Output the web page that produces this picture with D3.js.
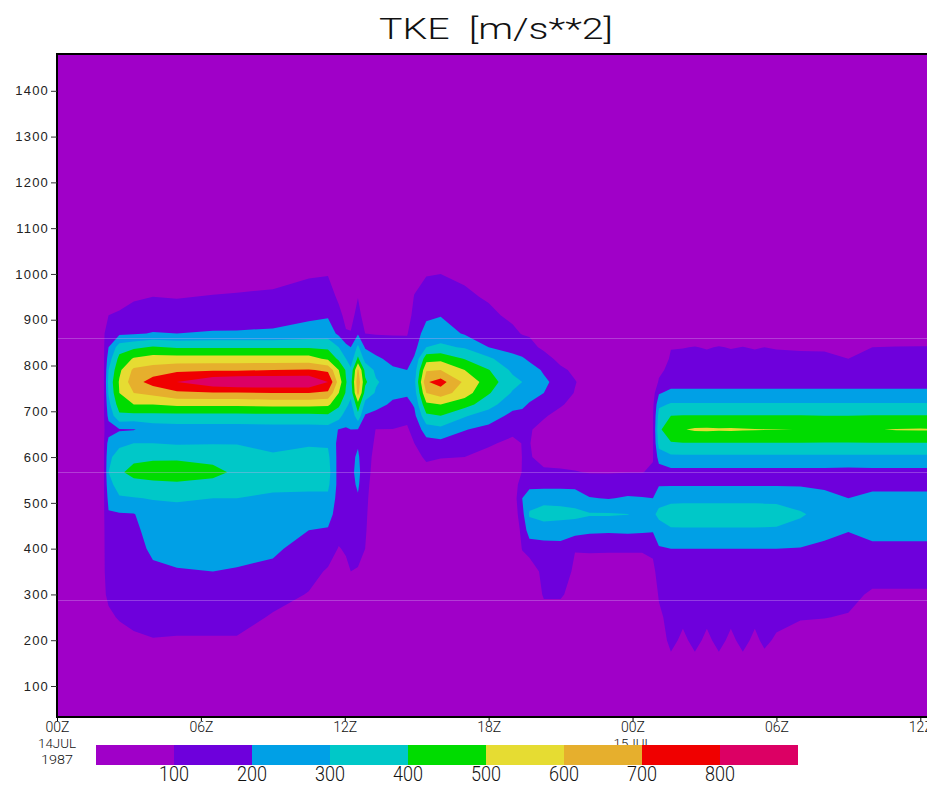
<!DOCTYPE html>
<html lang="en">
  <head>
    <meta charset="utf-8">
    <title>TKE</title>
    <script src="https://cdn.jsdelivr.net/npm/d3@7"></script>
    <style>
      body { margin: 0; background: #fff; }
      svg { display: block; }
      .hershey { font-family: Roboto, "Liberation Sans", sans-serif; font-weight: 300; fill: #111; }
      .ylab text { font-family: "Liberation Sans", Arial, sans-serif; font-size: 13px; letter-spacing: 1.2px; fill: #222; }
    </style>
  </head>
  <body>
    <script>

// time columns (hours after 00Z 14JUL1987)
var hours = [0, 1.95, 2.15, 2.6, 3.2, 4.0, 5.0, 6.5, 7.5, 9.0,
  10.5, 11.3, 11.75, 12.05, 12.25, 12.55, 12.85, 13.3, 14.0, 14.6,
  14.9, 15.4, 16.0, 17.0, 18.0, 19.0, 19.4, 19.7, 20.3, 21.0,
  21.6, 22.2, 23.0, 23.8, 24.4, 24.85, 25.1, 25.6, 26.1, 26.6,
  27.1, 27.6, 28.1, 28.6, 29.1, 29.5, 30.0, 31.0, 32.0, 33.0,
  34.0, 35.0, 36.0, 36.5];

// height levels
var heights = [150, 200, 250, 300, 350, 400, 440, 475, 510, 540, 567, 600, 630,
  660, 690, 715, 740, 764, 790, 815, 840, 870, 910, 950, 1000, 1040];

// TKE profiles, one per time column, bottom to top
var tke = [
  [0,0,0,0,0,0,0,0,0,0,0,0,0,0,0,0,0,0,0,0,0,0,0,0,0,0],
  [0,20,60,85,90,90,90,90,90,90,90,90,90,90,90,90,90,90,90,90,90,90,90,60,20,0],
  [0,30,80,120,140,150,160,190,230,270,300,280,240,150,230,270,310,330,300,250,200,150,100,70,30,0],
  [10,50,110,130,150,165,180,190,290,340,380,340,280,190,380,450,500,510,480,430,350,180,110,70,30,0],
  [20,80,130,150,160,170,180,195,295,360,440,370,300,195,370,500,600,660,620,510,380,190,130,90,40,0],
  [30,95,140,160,185,215,235,260,305,370,460,380,300,240,370,500,630,740,650,540,410,205,140,100,50,0],
  [30,90,140,165,195,225,250,270,310,380,470,380,290,250,370,520,680,800,680,540,390,200,140,95,45,0],
  [30,90,140,170,200,225,250,270,300,370,430,370,295,250,370,520,690,880,690,540,390,210,145,105,50,0],
  [30,90,140,170,195,222,250,270,300,350,380,350,295,250,370,520,690,900,690,540,390,210,150,110,55,0],
  [10,40,90,135,180,215,240,265,285,320,360,310,280,260,370,530,700,905,700,540,390,215,160,120,60,0],
  [0,20,60,95,130,165,200,250,280,320,350,330,290,260,370,530,700,900,710,540,390,240,180,140,90,40],
  [0,0,20,50,90,140,190,240,280,320,340,320,290,260,380,520,680,800,680,480,380,250,190,150,95,40],
  [0,0,0,20,60,95,130,150,160,165,160,165,170,195,340,420,500,560,500,380,300,180,130,80,40,0],
  [0,0,10,40,80,110,140,155,160,165,170,170,170,190,250,330,390,405,390,300,230,110,70,40,10,0],
  [0,0,20,60,100,130,150,160,165,170,175,175,175,200,215,270,330,360,320,240,200,105,70,40,10,0],
  [0,0,20,60,95,120,150,170,190,215,230,215,190,195,370,460,640,670,620,420,320,190,130,98,50,0],
  [0,0,0,30,70,100,110,115,120,125,130,130,135,150,190,270,360,420,370,260,190,100,60,30,0,0],
  [0,0,0,0,10,20,30,40,50,60,70,80,90,98,160,240,290,310,280,220,150,95,60,30,0,0],
  [0,0,0,0,0,10,20,30,40,50,60,60,75,98,140,180,230,260,215,170,130,95,60,20,0,0],
  [0,0,0,0,0,10,20,30,40,50,60,70,85,90,120,170,215,250,200,160,125,95,70,40,10,0],
  [0,0,0,0,0,10,20,30,40,50,60,80,100,130,175,210,250,270,245,210,170,150,120,105,60,20],
  [0,0,0,0,0,10,20,30,40,60,80,110,160,250,380,480,600,690,590,460,300,240,180,140,95,50],
  [0,0,0,0,0,10,20,30,45,65,80,102,170,270,400,500,650,740,600,470,320,250,195,150,100,50],
  [0,0,0,0,0,5,10,20,35,50,70,100,140,205,310,440,545,580,500,395,290,190,150,115,85,40],
  [0,0,0,0,0,0,10,20,30,30,50,75,110,170,250,340,410,450,405,320,200,140,120,90,50,10],
  [0,0,0,0,0,5,10,20,30,40,55,70,82,120,175,230,290,330,280,225,170,120,80,50,20,0],
  [0,0,0,0,40,105,130,170,200,150,103,101,102,110,170,220,275,300,260,210,150,95,60,30,0,0],
  [0,0,0,20,40,140,250,310,260,170,110,105,104,108,150,190,240,270,235,185,130,90,50,20,0,0],
  [0,0,60,110,130,160,250,340,270,170,110,80,50,70,110,150,200,215,190,140,80,40,10,0,0,0],
  [0,0,60,110,130,165,250,330,270,170,110,70,40,40,70,110,150,170,120,70,30,0,0,0,0,0],
  [0,0,50,70,90,102,240,325,260,170,105,60,30,20,40,70,95,105,80,40,10,0,0,0,0,0],
  [0,0,0,20,60,110,220,310,205,150,95,50,20,0,0,0,20,60,30,0,0,0,0,0,0,0],
  [0,0,0,15,55,110,215,310,195,145,95,45,10,0,0,0,0,0,0,0,0,0,0,0,0,0],
  [0,0,0,15,55,110,220,302,210,150,98,40,10,0,0,0,0,0,0,0,0,0,0,0,0,0],
  [0,0,0,15,55,110,215,280,205,150,98,40,10,5,0,0,0,0,0,0,0,0,0,0,0,0],
  [0,0,10,40,75,120,210,285,200,150,110,95,90,92,90,80,60,40,20,0,0,0,0,0,0,0],
  [30,60,80,110,140,190,260,320,270,190,150,240,340,380,340,280,190,110,80,50,20,0,0,0,0,0],
  [80,120,135,150,160,200,290,340,280,190,170,280,390,470,400,310,230,150,125,110,97,60,30,0,0,0],
  [30,85,115,140,160,200,290,345,280,190,170,280,395,495,405,310,230,150,130,115,98,60,30,0,0,0],
  [80,120,135,150,160,200,290,345,280,190,170,280,395,512,405,310,230,150,130,115,102,60,30,0,0,0],
  [30,85,115,140,160,200,290,345,280,190,170,280,395,515,405,310,230,150,130,115,96,60,30,0,0,0],
  [80,120,135,150,160,200,290,345,280,190,170,280,395,510,405,310,230,150,130,115,103,60,30,0,0,0],
  [30,85,115,140,160,200,290,345,280,190,170,280,395,512,405,310,230,150,130,115,97,60,30,0,0,0],
  [80,120,135,150,160,200,290,345,280,190,170,280,395,508,405,310,230,150,130,115,101,60,30,0,0,0],
  [30,85,115,140,160,200,290,345,280,190,170,280,395,505,405,310,230,150,130,115,96,60,30,0,0,0],
  [75,115,130,150,160,200,290,340,280,190,170,280,395,503,405,310,230,150,130,115,100,60,30,0,0,0],
  [20,90,120,145,160,200,290,335,280,190,170,280,395,502,405,310,230,150,130,112,97,60,30,0,0,0],
  [10,70,105,130,150,195,270,310,260,190,170,280,395,499,405,310,230,150,130,110,95,60,30,0,0,0],
  [0,60,102,125,145,170,240,270,230,180,170,280,395,490,400,310,230,150,125,108,95,60,30,0,0,0],
  [0,40,95,120,140,150,205,250,200,170,165,280,395,488,400,310,230,150,120,100,92,55,25,0,0,0],
  [0,0,40,90,130,180,230,265,225,175,170,280,395,495,405,310,230,150,130,115,100,60,30,0,0,0],
  [0,0,40,90,130,180,230,265,225,175,170,280,395,505,405,310,230,150,130,115,102,60,30,0,0,0],
  [0,0,40,90,130,180,230,265,225,175,170,280,395,508,405,310,230,150,130,115,103,60,30,0,0,0],
  [0,0,40,90,130,180,230,265,225,175,170,280,395,506,405,310,230,150,130,115,103,60,30,0,0,0]
];

var thresholds = [100, 200, 300, 400, 500, 600, 700, 800];
var colors = ["#a000c8", "#6e00dc", "#00a0e6", "#00c8c8", "#00dc00",
              "#e6dc32", "#e6af2d", "#f00000", "#dc0064"];

var yTicks = [100, 200, 300, 400, 500, 600, 700, 800, 900, 1000, 1100, 1200, 1300, 1400];
var xTicks = [0, 6, 12, 18, 24, 30, 36];
var xTickLabels = ["00Z", "06Z", "12Z", "18Z", "00Z", "06Z", "12Z"];
var dayTicks = [0, 24];
var dayLabels = ["14JUL", "15JUL"];
var yearLabel = "1987";
var faintLevels = [860, 567, 288];

var W = 927, H = 786;
var plotLeft = 57, plotTop = 54, plotBottom = 717;

var x = d3.scaleLinear().domain([0, 36]).range([57, 920.3]);
var y = d3.scaleLinear().domain([100, 1400]).range([686, 90.8]);

var svg = d3.select("body").append("svg")
    .attr("width", W)
    .attr("height", H);

svg.append("defs").append("clipPath")
    .attr("id", "plotclip")
  .append("rect")
    .attr("x", plotLeft)
    .attr("y", plotTop)
    .attr("width", W - plotLeft)
    .attr("height", plotBottom - plotTop);

// grid -> flat array for d3.contours (rows = heights)
var n = hours.length, m = heights.length;
var values = new Array(n * m);
for (var j = 0; j < m; j++) {
  for (var i = 0; i < n; i++) {
    values[j * n + i] = tke[i][j];
  }
}

function interp(arr, u) {
  u = Math.max(0, Math.min(arr.length - 1, u));
  var k = Math.min(arr.length - 2, Math.floor(u));
  return arr[k] + (u - k) * (arr[k + 1] - arr[k]);
}

var proj = d3.geoTransform({
  point: function(px, py) {
    this.stream.point(x(interp(hours, px - 0.5)), y(interp(heights, py - 0.5)));
  }
});
var path = d3.geoPath(proj);

var bands = d3.contours()
    .size([n, m])
    .thresholds(thresholds)(values);

var plot = svg.append("g").attr("clip-path", "url(#plotclip)");

plot.append("rect")
    .attr("x", plotLeft)
    .attr("y", plotTop)
    .attr("width", W - plotLeft)
    .attr("height", plotBottom - plotTop)
    .attr("fill", colors[0]);

plot.selectAll("path.band")
    .data(bands)
  .join("path")
    .attr("class", "band")
    .attr("d", path)
    .attr("fill", function(d, i) { return colors[i + 1]; });

plot.selectAll("line.faint")
    .data(faintLevels)
  .join("line")
    .attr("class", "faint")
    .attr("x1", plotLeft)
    .attr("x2", W)
    .attr("y1", function(d) { return Math.round(y(d)) + 0.5; })
    .attr("y2", function(d) { return Math.round(y(d)) + 0.5; })
    .attr("stroke", "#d8a8f0")
    .attr("stroke-opacity", 0.35)
    .attr("stroke-width", 1);

// frame
svg.append("path")
    .attr("d", "M" + W + "," + plotTop + "H" + plotLeft + "V" + plotBottom + "H" + W)
    .attr("fill", "none")
    .attr("stroke", "#000")
    .attr("stroke-width", 2);

// y axis
var yAxis = svg.append("g")
    .attr("class", "ylab")
    .attr("transform", "translate(" + plotLeft + ",0)")
    .call(d3.axisLeft(y).tickValues(yTicks).tickFormat(d3.format("d"))
      .tickSize(6).tickPadding(2).tickSizeOuter(0));
yAxis.select(".domain").remove();
yAxis.selectAll(".tick line").attr("stroke", "#333");

// x axis
var xAxis = svg.append("g")
    .attr("transform", "translate(0," + plotBottom + ")")
    .call(d3.axisBottom(x).tickValues(xTicks)
      .tickFormat(function(d, i) { return xTickLabels[i]; })
      .tickSize(4).tickPadding(1).tickSizeOuter(0));
xAxis.select(".domain").remove();
xAxis.selectAll(".tick text")
    .attr("class", "hershey")
    .style("font-size", "14px")
    .attr("textLength", 24)
    .attr("lengthAdjust", "spacingAndGlyphs");

svg.selectAll("text.day")
    .data(dayTicks)
  .join("text")
    .attr("class", "hershey day")
    .attr("x", function(d) { return x(d); })
    .attr("y", 748)
    .attr("text-anchor", "middle")
    .style("font-size", "13px")
    .attr("textLength", 38)
    .attr("lengthAdjust", "spacingAndGlyphs")
    .text(function(d, i) { return dayLabels[i]; });

svg.append("text")
    .attr("class", "hershey")
    .attr("x", x(0))
    .attr("y", 764)
    .attr("text-anchor", "middle")
    .style("font-size", "13px")
    .attr("textLength", 32)
    .attr("lengthAdjust", "spacingAndGlyphs")
    .text(yearLabel);

// colour bar
var cb = d3.scaleLinear().domain([0, colors.length]).range([96, 798]);
svg.selectAll("rect.cb")
    .data(colors)
  .join("rect")
    .attr("class", "cb")
    .attr("x", function(d, i) { return cb(i); })
    .attr("y", 745)
    .attr("width", function(d, i) { return cb(i + 1) - cb(i); })
    .attr("height", 20)
    .attr("fill", function(d) { return d; });

svg.selectAll("text.cbl")
    .data(thresholds)
  .join("text")
    .attr("class", "hershey cbl")
    .attr("x", function(d, i) { return cb(i + 1); })
    .attr("y", 781)
    .attr("text-anchor", "middle")
    .style("font-size", "20px")
    .attr("textLength", 30)
    .attr("lengthAdjust", "spacingAndGlyphs")
    .text(function(d) { return d; });

// title
svg.append("text")
    .attr("class", "hershey")
    .attr("x", 496)
    .attr("y", 39)
    .attr("text-anchor", "middle")
    .style("font-size", "29px")
    .style("white-space", "pre")
    .attr("textLength", 234)
    .attr("lengthAdjust", "spacingAndGlyphs")
    .text("TKE  [m/s**2]");

    </script>
  </body>
</html>
